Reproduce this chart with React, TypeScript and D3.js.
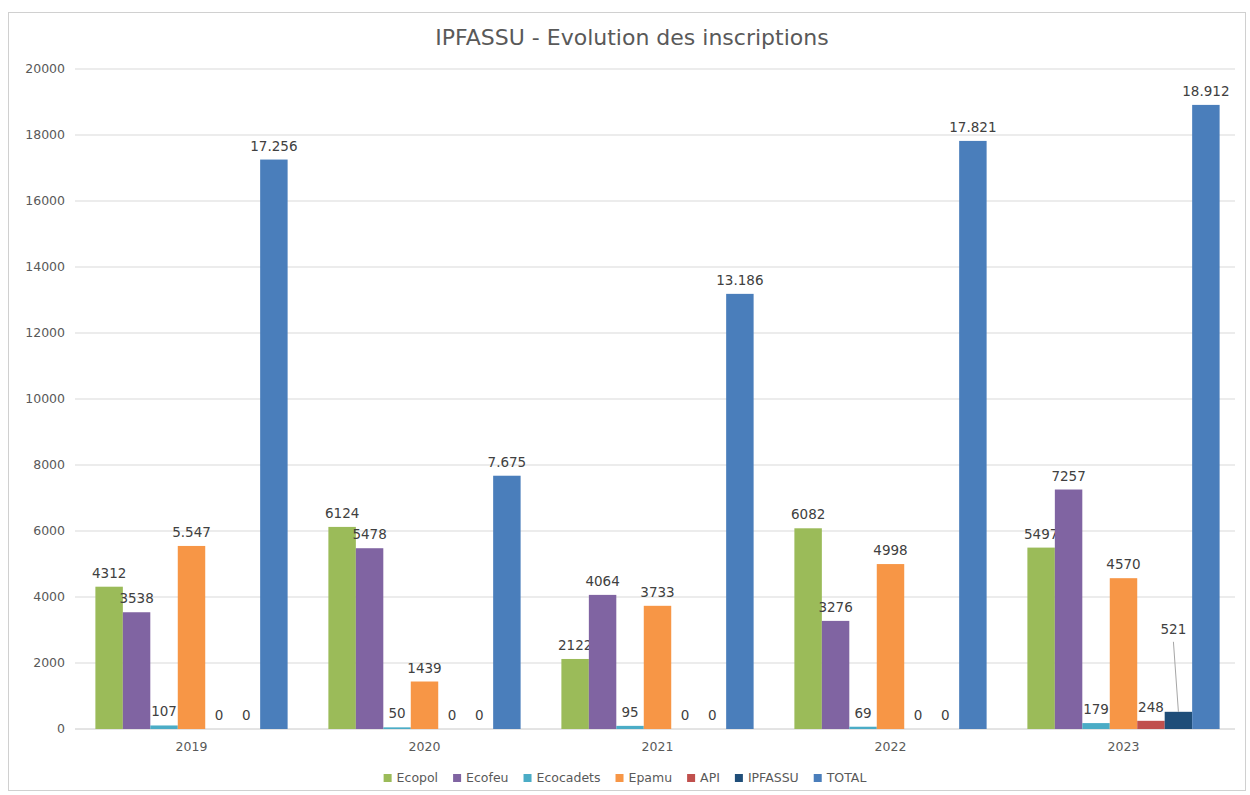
import { useEffect } from 'react';
import * as d3 from 'd3';

const WIDTH = 1250;
const HEIGHT = 795;
const MARGIN = { top: 69, right: 10, bottom: 66, left: 75 };

const years = ['2019', '2020', '2021', '2022', '2023'];
const seriesNames = ['Ecopol', 'Ecofeu', 'Ecocadets', 'Epamu', 'API', 'IPFASSU', 'TOTAL'];
const seriesColors = ['#9bbb59', '#8064a2', '#4bacc6', '#f79646', '#c0504d', '#1f4e79', '#4a7ebb'];

const ecopol = [4312, 6124, 2122, 6082, 5497];
const ecofeu = [3538, 5478, 4064, 3276, 7257];
const ecocadets = [107, 50, 95, 69, 179];
const epamu = [5547, 1439, 3733, 4998, 4570];
const api = [0, 0, 0, 0, 248];
const ipfassu = [0, 0, 0, 0, 521];
const total = [17256, 7675, 13186, 17821, 18912];

const yTicks = [0, 2000, 4000, 6000, 8000, 10000, 12000, 14000, 16000, 18000, 20000];

// labels written with a dot as thousands separator in the source
const dottedLabels = new Set(['Epamu-2019', ...years.map((y) => `TOTAL-${y}`)]);

const allSeries = [ecopol, ecofeu, ecocadets, epamu, api, ipfassu, total];

const FONT = 'Verdana, "DejaVu Sans", sans-serif';

const measure = (text: string, size: number) => {
  const ctx = document.createElement('canvas').getContext('2d');
  if (!ctx) return text.length * size * 0.6;
  ctx.font = `${size}px "DejaVu Sans"`;
  return ctx.measureText(text).width;
};

export default function App() {
  useEffect(() => {
    document.body.style.margin = '0';
  }, []);

  const boundsWidth = WIDTH - MARGIN.left - MARGIN.right;
  const boundsHeight = HEIGHT - MARGIN.top - MARGIN.bottom;

  const xScale = d3.scaleBand().domain(years).range([0, boundsWidth]).paddingInner(0.175).paddingOuter(0.0875);
  const xInner = d3.scaleBand().domain(seriesNames).range([0, xScale.bandwidth()]);
  const yScale = d3.scaleLinear().domain([0, 20000]).range([boundsHeight, 0]);

  const fmtDot = (v: number) => d3.format(',')(v).replace(/,/g, '.');

  // legend layout
  const legendSize = 12.5;
  const itemWidths = seriesNames.map((n) => 13 + measure(n, legendSize) + 15);
  const legendTotal = d3.sum(itemWidths) - 15;
  let lx = WIDTH / 2 - legendTotal / 2;
  const legendX = itemWidths.map((w) => {
    const x = lx;
    lx += w;
    return x;
  });

  return (
    <svg width={WIDTH} height={HEIGHT} style={{ display: 'block', background: '#fff' }} fontFamily={FONT}>
      <rect x={8.5} y={12.5} width={1237} height={778} fill="#fff" stroke="#d0d0d0" />
      <text x={632} y={45} textAnchor="middle" fontSize={22} fill="#595959">
        IPFASSU - Evolution des inscriptions
      </text>
      <g transform={`translate(${MARGIN.left},${MARGIN.top})`}>
        {yTicks.map((t) => (
          <g key={t}>
            <line x1={0} x2={boundsWidth - 5} y1={yScale(t)} y2={yScale(t)} stroke={t === 0 ? '#c8c8c8' : '#d9d9d9'} />
            <text x={-10} y={yScale(t)} dy="0.35em" textAnchor="end" fontSize={12.5} fill="#595959">
              {t}
            </text>
          </g>
        ))}
        {years.map((year, yi) => (
          <g key={year} transform={`translate(${xScale(year)},0)`}>
            {seriesNames.map((name, si) => {
              const v = allSeries[si][yi];
              const x = xInner(name) || 0;
              const bw = xInner.bandwidth();
              const top = yScale(v);
              const label = dottedLabels.has(`${name}-${year}`) ? fmtDot(v) : String(v);
              const isLeader = name === 'IPFASSU' && v > 0;
              const lxp = x + bw / 2 + (isLeader ? -5 : 0);
              const lyp = isLeader ? top - 78 : top - 9;
              return (
                <g key={name}>
                  {v > 0 && <rect x={x} y={top} width={bw} height={boundsHeight - top} fill={seriesColors[si]} />}
                  {isLeader && (
                    <line x1={lxp} y1={lyp + 8} x2={x + bw / 2} y2={top} stroke="#a6a6a6" strokeWidth={1} />
                  )}
                  <text x={lxp} y={lyp} textAnchor="middle" fontSize={13.5} fill="#404040">
                    {label}
                  </text>
                </g>
              );
            })}
            <text x={xScale.bandwidth() / 2} y={boundsHeight + 22} textAnchor="middle" fontSize={12.5} fill="#595959">
              {year}
            </text>
          </g>
        ))}
      </g>
      <g transform="translate(0,778)">
        {seriesNames.map((n, i) => (
          <g key={n} transform={`translate(${legendX[i]},0)`}>
            <rect x={0} y={-4} width={8} height={8} fill={seriesColors[i]} />
            <text x={13} y={0} dy="0.35em" fontSize={legendSize} fill="#595959">
              {n}
            </text>
          </g>
        ))}
      </g>
    </svg>
  );
}
